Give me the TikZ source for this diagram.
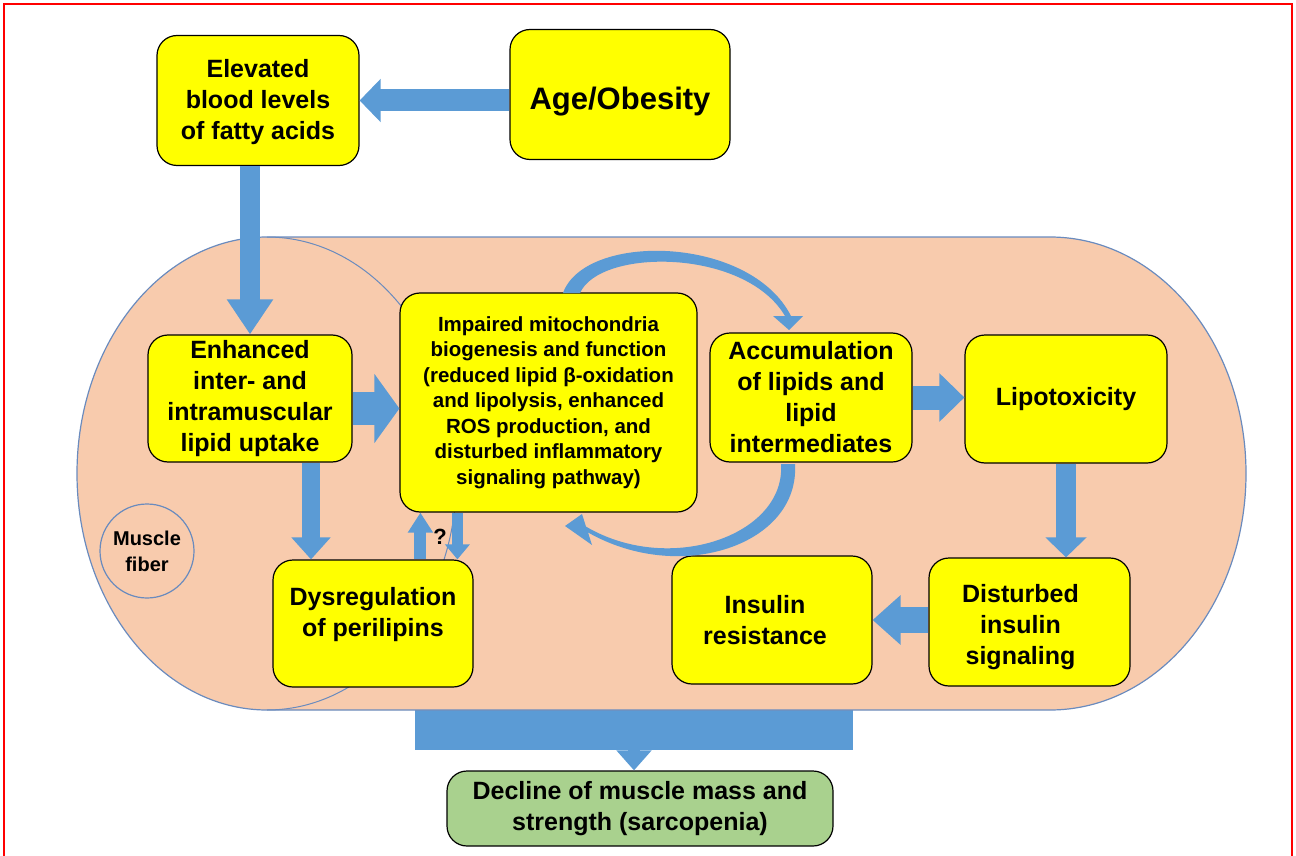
\documentclass[tikz,border=0pt]{standalone}
\usepackage{fontspec}
\setmainfont{Liberation Sans}
\usetikzlibrary{arrows.meta}
\definecolor{boxyellow}{HTML}{FFFF00}
\definecolor{fibrepeach}{HTML}{F8CBAD}
\definecolor{fibreline}{HTML}{6A8BBE}
\definecolor{arrowblue}{HTML}{5B9BD5}
\definecolor{declinegreen}{HTML}{A9D18E}
\definecolor{framered}{HTML}{FF0000}
\tikzset{
    yellowbox/.style={
        rectangle,
        rounded corners=20pt,
        draw=black,
        line width=1.2pt,
        fill=boxyellow,
        inner sep=0pt,
        align=center,
        font=\bfseries\fontsize{25}{31}\selectfont
    },
    boxtext/.style={
        align=center,
        inner sep=0pt,
        font=\bfseries\fontsize{25}{31}\selectfont
    },
    fiberlabel/.style={
        circle,
        draw=fibreline,
        line width=1.2pt,
        minimum size=94pt,
        inner sep=0pt,
        align=center,
        font=\bfseries\fontsize{20}{26}\selectfont
    },
    blockarrow/.style={
        draw=arrowblue,
        line width=#1
    }
}
\begin{document}
\begin{tikzpicture}[x=1pt, y=-1pt]
\useasboundingbox (0,0) rectangle (1296,856);

% Frame
\draw[framered, line width=2pt] (4,4) rectangle (1292,880);

% Collecting bar under the fibre
\node[fill=arrowblue, minimum width=438pt, minimum height=40pt, inner sep=0pt] (collect) at (634,730) {};

% Muscle fibre
\filldraw[fill=fibrepeach, draw=fibreline, line width=1.2pt] (267,237) -- (1050,237)
    arc[start angle=90, end angle=-90, x radius=196pt, y radius=236.5pt] -- (267,710)
    arc[start angle=270, end angle=90, x radius=190pt, y radius=236.5pt] -- cycle;
\draw[fibreline, line width=1pt] (267,237) arc[start angle=90, end angle=-90, x radius=190pt, y radius=236.5pt];
\node[fiberlabel] (fiber) at (147,551) {Muscle\\fiber};

% Boxes
\node[yellowbox, minimum width=202pt, minimum height=130pt] (elev) at (258,100.5) {};
\node[boxtext] (elevtext) at ([yshift=-2pt]elev.center) {Elevated\\blood levels\\of fatty acids};
\node[yellowbox, minimum width=220pt, minimum height=130pt] (age) at (620,94.5) {};
\node[boxtext, font=\bfseries\fontsize{31}{36}\selectfont] (agetext) at ([yshift=-7pt]age.center) {Age/Obesity};
\node[yellowbox, minimum width=204pt, minimum height=127pt] (enh) at (250,398.5) {Enhanced\\inter- and\\intramuscular\\lipid uptake};
\node[yellowbox, minimum width=297pt, minimum height=219pt, font=\bfseries\fontsize{20.5}{25.5}\selectfont] (imp) at (548.5,402.5) {Impaired mitochondria\\biogenesis and function\\(reduced lipid β-oxidation\\and lipolysis, enhanced\\ROS production, and\\disturbed inflammatory\\signaling pathway)};
\node[yellowbox, minimum width=202pt, minimum height=129pt] (acc) at (811,397.5) {Accumulation\\of lipids and\\lipid\\intermediates};
\node[yellowbox, minimum width=202pt, minimum height=128pt] (lipo) at (1066,399) {Lipotoxicity};
\node[yellowbox, minimum width=200pt, minimum height=127pt] (dys) at (373,623.5) {};
\node[boxtext] (dystext) at ([yshift=9pt]dys.center) {Dysregulation\\of perilipins};
\node[yellowbox, minimum width=200pt, minimum height=128pt] (ins) at (772,620) {};
\node[boxtext] (instext) at ([xshift=-7pt]ins.center) {Insulin\\resistance};
\node[yellowbox, minimum width=201pt, minimum height=128pt] (dist) at (1029.5,622) {};
\node[boxtext] (disttext) at ([xshift=-9pt, yshift=-5pt]dist.center) {Disturbed\\insulin\\signaling};
\node[yellowbox, fill=declinegreen, minimum width=386pt, minimum height=75pt] (decl) at (640,808.5) {Decline of muscle mass and\\strength (sarcopenia)};

% Straight arrows
\draw[blockarrow=22pt, -{Triangle[width=42pt, length=21pt]}] (age.west |- elev.east) -- (elev.east);
\draw[blockarrow=20pt, -{Triangle[width=44pt, length=35pt]}] (elev.south -| enh.north) -- (enh.north);
\draw[blockarrow=33pt, -{Triangle[width=68pt, length=25pt]}] ([yshift=-10pt]enh.east) -- ([yshift=-10pt]enh.east -| imp.west);
\draw[blockarrow=18pt, -{Triangle[width=38pt, length=22pt]}] ([xshift=61pt]enh.south) -- ([xshift=61pt]enh.south |- dys.north);
\draw[blockarrow=12pt, -{Triangle[width=24pt, length=20pt]}] ([xshift=21pt]imp.south west |- dys.north) -- ([xshift=21pt]imp.south west);
\draw[blockarrow=11pt, -{Triangle[width=24pt, length=15pt]}] ([xshift=58pt]imp.south west) -- ([xshift=58pt]imp.south west |- dys.north);
\node[font=\bfseries\fontsize{22}{26}\selectfont] (qmark) at (440,537) {?};
\draw[blockarrow=24pt, -{Triangle[width=47pt, length=25pt]}] (acc.east) -- (acc.east -| lipo.west);
\draw[blockarrow=20pt, -{Triangle[width=40pt, length=20pt]}] (lipo.south) -- (lipo.south |- dist.north);
\draw[blockarrow=26pt, -{Triangle[width=48pt, length=28pt]}] (dist.west |- ins.east) -- (ins.east);
\draw[blockarrow=12pt, -{Triangle[width=34pt, length=20pt]}] (collect.south) -- (collect.south |- decl.north);

% Curved arrows around the accumulation loop
\fill[arrowblue] (563,293) .. controls (585,232) and (750,235) .. (791,316)
    -- (803,316) -- (789,330) -- (773,316) -- (785,316)
    .. controls (745,248) and (600,248) .. (580,293) -- cycle;
\fill[arrowblue] (795,464) .. controls (800,545) and (680,585) .. (588,532.4)
    -- (592,545) -- (565,526) -- (582,514) -- (586,526.6)
    .. controls (670,576) and (786,535) .. (781,464) -- cycle;

\end{tikzpicture}
\end{document}
